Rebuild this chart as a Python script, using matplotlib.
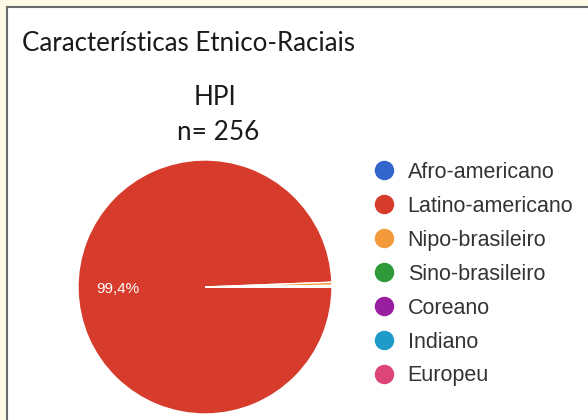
import matplotlib.pyplot as plt
from matplotlib.lines import Line2D
from matplotlib.patches import Rectangle

categories = ["Afro-americano", "Latino-americano", "Nipo-brasileiro", "Sino-brasileiro",
              "Coreano", "Indiano", "Europeu"]
shares = [0.0, 99.4, 0.4, 0.2, 0.0, 0.0, 0.0]
colors = ["#3366cc", "#d63b2b", "#f39a3c", "#2f9a3a", "#9a1fa0", "#1f9bc9", "#dd4477"]
title = "Características Etnico-Raciais"
group = "HPI"
n_label = "n= 256"

W, H = 588, 420
fig = plt.figure(figsize=(W / 100, H / 100), dpi=100)
fig.patch.set_facecolor("#fdf9e6")
fig.patches.append(Rectangle((7 / W, 0), 1, 1 - 7 / H, transform=fig.transFigure,
                             facecolor="white", edgecolor="none", zorder=-5))
fig.add_artist(Line2D([7 / W, 7 / W], [0, 1 - 7 / H], color="#6b6b6b", lw=1.5))
fig.add_artist(Line2D([7 / W, 1], [1 - 7 / H, 1 - 7 / H], color="#6b6b6b", lw=1.5))

fig.text(22 / W, 1 - 51 / H, title, fontsize=18.6, family="Lato", color="#1a1a1a", va="baseline")
fig.text(215 / W, 1 - 105 / H, group, fontsize=18.8, family="Lato", color="#1a1a1a",
         ha="center", va="baseline")
fig.text(218 / W, 1 - 140 / H, n_label, fontsize=18.8, family="Lato", color="#1a1a1a",
         ha="center", va="baseline")

cx, cy, r = 205, 287, 127
ax = fig.add_axes([(cx - r) / W, (H - cy - r) / H, 2 * r / W, 2 * r / H])


def fmt(p):
    return f"{p:.1f}%".replace(".", ",") if p > 5 else ""


wedges, _, autotexts = ax.pie(shares, colors=colors, startangle=0, counterclock=False,
                              autopct=fmt, pctdistance=0.69,
                              wedgeprops=dict(edgecolor="white", linewidth=1))
for t in autotexts:
    t.set_color("white")
    t.set_fontsize(11)
    t.set_family("Liberation Sans")
ax.set_xlim(-1, 1)
ax.set_ylim(-1, 1)
ax.set_aspect("equal")

handles = [Line2D([], [], marker="o", linestyle="", markersize=13, color=c) for c in colors]
fig.legend(handles, categories, loc="upper left", bbox_to_anchor=(371 / W, 1 - 162 / H),
           frameon=False, prop={"family": "Liberation Sans", "size": 15.5},
           labelspacing=0.6, handletextpad=0.5, handlelength=1.2, borderaxespad=0,
           borderpad=0, labelcolor="#333333")

fig.savefig("out.png", dpi=100, facecolor=fig.get_facecolor())
